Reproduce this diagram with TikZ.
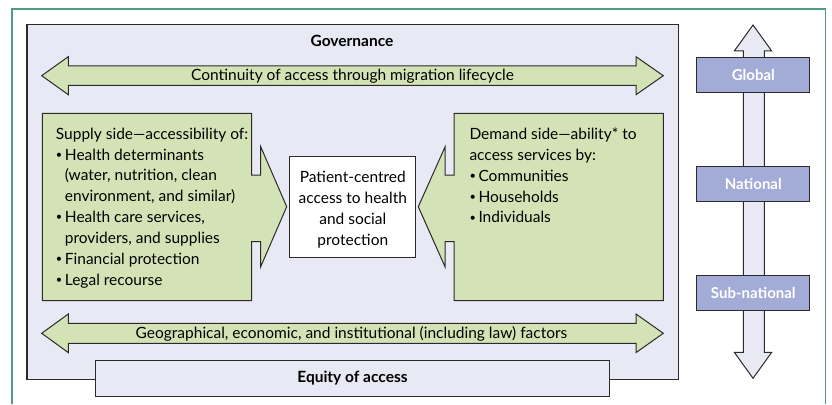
\documentclass[tikz,border=0pt]{standalone}
\usepackage{fontspec}
\setmainfont{Lato}
\definecolor{framec}{HTML}{4E9C7C}
\definecolor{lav}{HTML}{E8E9F5}
\definecolor{leaf}{HTML}{D4E3B6}
\definecolor{levelc}{HTML}{A3ACD7}
\definecolor{edgec}{HTML}{2A2A2A}
\newcommand{\bul}{\makebox[9pt][l]{\raisebox{0.12em}{\fontsize{11}{11}\selectfont •}}}
\newcommand{\ind}{\hspace*{9pt}}
\tikzset{
  shapeline/.style={draw=edgec, line width=1pt, line join=miter},
  greenshape/.style={shapeline, fill=leaf},
  lavshape/.style={shapeline, fill=lav},
  levelbox/.style={draw=edgec, line width=1pt, fill=levelc, minimum width=113.3pt, minimum height=34.5pt, inner sep=0pt, text=white, font=\fontsize{15}{17}\selectfont\bfseries},
  body/.style={inner sep=0pt, align=left, font=\fontsize{15.5}{20.9}\selectfont},
  label/.style={inner sep=0pt, font=\fontsize{15.5}{17}\selectfont},
  boldlabel/.style={inner sep=0pt, font=\fontsize{15.5}{17}\selectfont\bfseries},
}
\begin{document}
\begin{tikzpicture}[x=1pt,y=-1pt]
\useasboundingbox (0,0) rectangle (832,404);
% outer frame
\draw[framec, line width=1.2pt] (12,404) -- (12,9) -- (825.7,9) -- (825.7,404);
% governance box
\node[lavshape, line width=1.3pt, minimum width=651.7pt, minimum height=354.7pt, anchor=north west, inner sep=0pt] (govbox) at (26.3,24) {};
\node[boldlabel] (gov) at (352,40.5) {Governance};
% top horizontal arrow
\draw[greenshape] (41.7,75.7) -- (68.3,56.7) -- (68.3,66) -- (636,66) -- (636,56.7) -- (663.3,75.7) -- (636,94.7) -- (636,85.4) -- (68.3,85.4) -- (68.3,94.7) -- cycle;
\node[label] (cont) at (352.5,76.5) {Continuity of access through migration lifecycle};
% bottom horizontal arrow
\draw[greenshape] (41.7,333.3) -- (68.3,314) -- (68.3,323.3) -- (636,323.3) -- (636,314) -- (663.3,333.3) -- (636,352.6) -- (636,343.3) -- (68.3,343.3) -- (68.3,352.6) -- cycle;
\node[label] (geo) at (351.5,334) {Geographical, economic, and institutional (including law) factors};
% supply side shape
\draw[greenshape] (42.3,113.3) -- (251.7,113.3) -- (251.7,175) -- (260.7,175) -- (260.7,146.7) -- (286.7,206.7) -- (260.7,266.7) -- (260.7,241.7) -- (251.7,241.7) -- (251.7,300.7) -- (42.3,300.7) -- cycle;
\node[body, anchor=north west] (supply) at (55.7,127.5) {Supply side—accessibility of:\\
\bul Health determinants\\
\ind(water, nutrition, clean\\
\ind environment, and similar)\\
\bul Health care services,\\
\ind providers, and supplies\\
\bul Financial protection\\
\bul Legal recourse};
% demand side shape
\draw[greenshape] (663.3,113.3) -- (454,113.3) -- (454,175) -- (445,175) -- (445,147) -- (418.3,206.7) -- (445,266.7) -- (445,241.7) -- (454,241.7) -- (454,300.7) -- (663.3,300.7) -- cycle;
\node[body, anchor=north west] (demand) at (469.3,127.5) {Demand side—ability* to\\
access services by:\\
\bul Communities\\
\bul Households\\
\bul Individuals};
% centre box
\node[draw=edgec, line width=1pt, fill=white, minimum width=125.7pt, minimum height=101.3pt, inner sep=0pt] (centre) at (352.8,206.7) {};
\node[body, align=center] (centretext) at (352.8,209.5) {Patient-centred\\access to health\\and social\\protection};
% equity box
\node[lavshape, minimum width=513.6pt, minimum height=35.3pt, inner sep=0pt, font=\fontsize{15.5}{17}\selectfont\bfseries] (equity) at (352.5,378.4) {Equity of access};
% vertical level arrow
\draw[lavshape] (753,25) -- (771.7,51) -- (764.3,51) -- (764.3,352.3) -- (771.7,352.3) -- (753,378.3) -- (734.3,352.3) -- (743.3,352.3) -- (743.3,51) -- (734.3,51) -- cycle;
\node[levelbox] (global) at (753.3,75) {Global};
\node[levelbox] (national) at (753.3,184.2) {National};
\node[levelbox] (subnat) at (753.3,292.8) {Sub-national};
\end{tikzpicture}
\end{document}
